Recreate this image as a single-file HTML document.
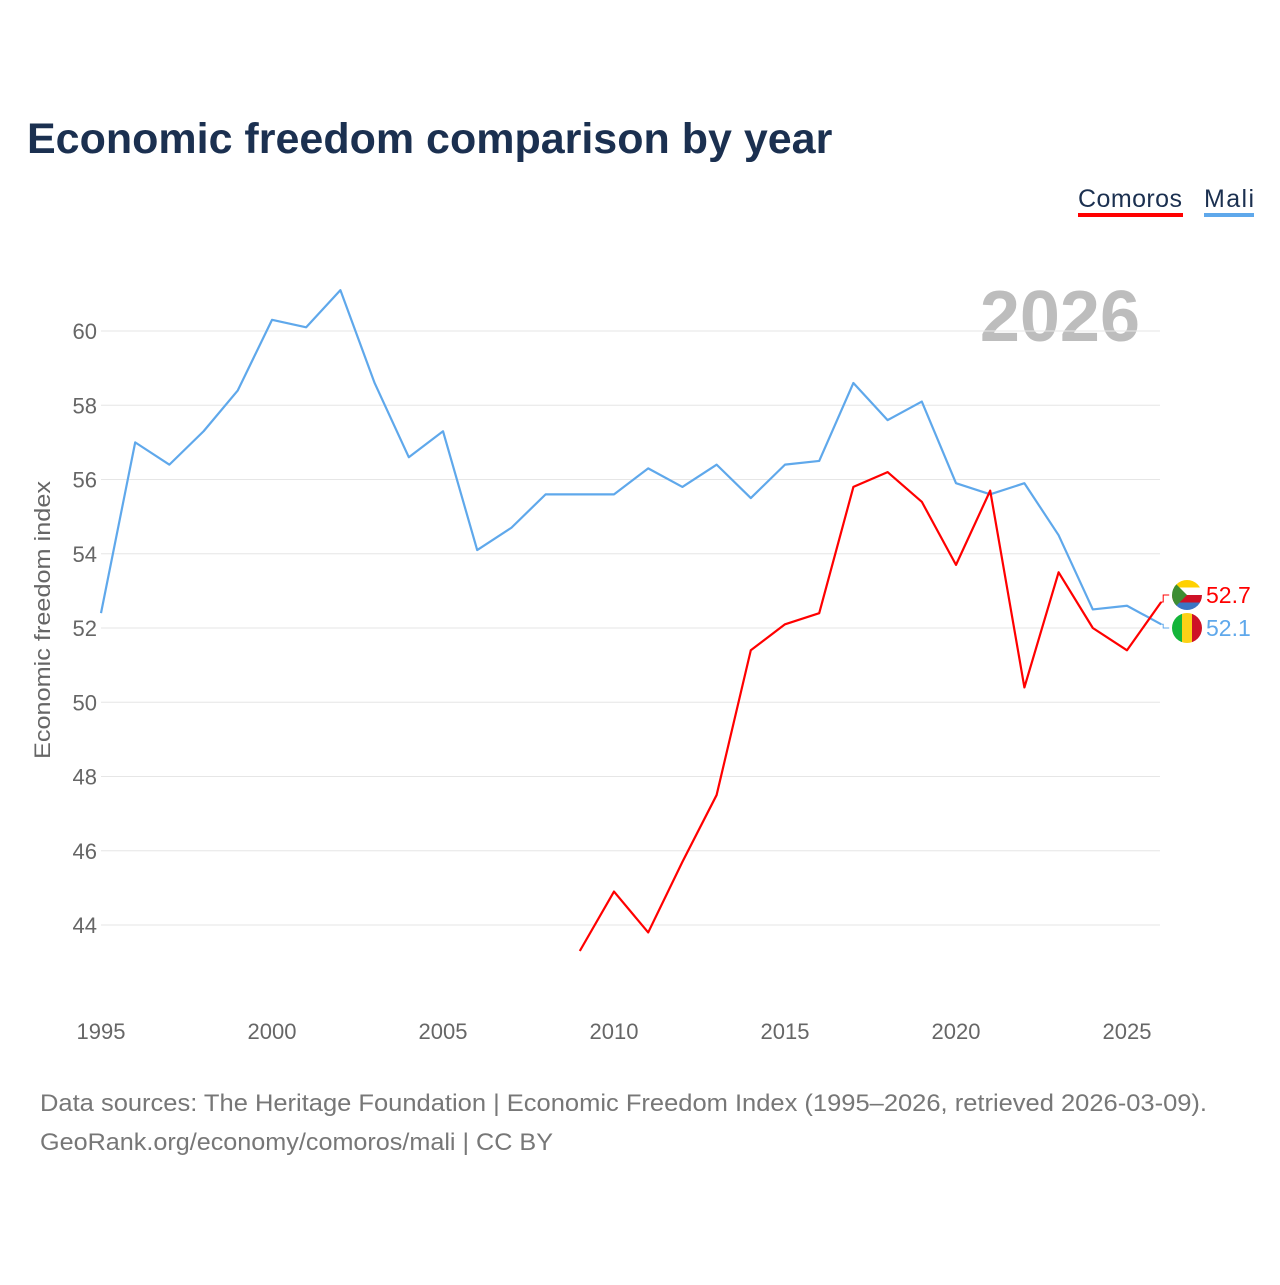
<!DOCTYPE html>
<html><head><meta charset="utf-8"><style>
body{margin:0;background:#fff;font-family:"Liberation Sans",sans-serif;}
svg text{font-family:"Liberation Sans",sans-serif;}
</style></head><body>
<svg width="1280" height="1280" xmlns="http://www.w3.org/2000/svg">
<text x="27" y="153" font-size="43" font-weight="bold" fill="#1b3050">Economic freedom comparison by year</text>
<g>
<text x="1078" y="207" font-size="25" fill="#1b3050" textLength="104">Comoros</text>
<rect x="1078" y="213" width="105" height="4" fill="#f00"/>
<text x="1204" y="207" font-size="25" fill="#1b3050" textLength="50">Mali</text>
<rect x="1204" y="213" width="50" height="4" fill="#5fa8eb"/>
</g>
<text x="1140" y="341" font-size="72" font-weight="bold" fill="#bdbdbd" text-anchor="end">2026</text>
<text transform="translate(50,620) rotate(-90)" font-size="22" fill="#666" text-anchor="middle" textLength="278" lengthAdjust="spacingAndGlyphs">Economic freedom index</text>
<g id="grid"></g><g id="lines"></g><g id="ends"></g>
<text x="40" y="1111" font-size="24" fill="#777" textLength="1167" lengthAdjust="spacingAndGlyphs">Data sources: The Heritage Foundation | Economic Freedom Index (1995–2026, retrieved 2026-03-09).</text>
<text x="40" y="1150" font-size="24" fill="#777" textLength="513" lengthAdjust="spacingAndGlyphs">GeoRank.org/economy/comoros/mali | CC BY</text>
</svg>
<script>
const yTicks=[44,46,48,50,52,54,56,58,60];
const xTicks=[1995,2000,2005,2010,2015,2020,2025];
const maliYears=[1995,1996,1997,1998,1999,2000,2001,2002,2003,2004,2005,2006,2007,2008,2009,2010,2011,2012,2013,2014,2015,2016,2017,2018,2019,2020,2021,2022,2023,2024,2025,2026];
const maliValues=[52.4,57.0,56.4,57.3,58.4,60.3,60.1,61.1,58.6,56.6,57.3,54.1,54.7,55.6,55.6,55.6,56.3,55.8,56.4,55.5,56.4,56.5,58.6,57.6,58.1,55.9,55.6,55.9,54.5,52.5,52.6,52.1];
const comYears=[2009,2010,2011,2012,2013,2014,2015,2016,2017,2018,2019,2020,2021,2022,2023,2024,2025,2026];
const comValues=[43.3,44.9,43.8,45.7,47.5,51.4,52.1,52.4,55.8,56.2,55.4,53.7,55.7,50.4,53.5,52.0,51.4,52.7];
const NS="http://www.w3.org/2000/svg";
const X=y=>101+(y-1995)*34.2;
const Y=v=>331+(60-v)*37.125;
function mk(t,a,p){const e=document.createElementNS(NS,t);for(const k in a)e.setAttribute(k,a[k]);p.appendChild(e);return e;}
const g=document.getElementById('grid');
yTicks.forEach(v=>{
 const l=mk('line',{x1:101,x2:1160,y1:Y(v),y2:Y(v),stroke:'#e6e6e6','stroke-width':1},g);
 
 
 const t=mk('text',{x:97,y:Y(v)+8,'font-size':22,fill:'#666','text-anchor':'end'},g);t.textContent=v;
 
 
});
xTicks.forEach(y=>{
 const t=mk('text',{x:X(y),y:1039,'font-size':22,fill:'#666','text-anchor':'middle'},g);t.textContent=y;
 
 
});
const L=document.getElementById('lines');
function line(ys,vs,c,n){
 const p=mk('polyline',{points:ys.map((y,i)=>X(y)+','+Y(vs[i])).join(' '),fill:'none',stroke:c,'stroke-width':2.2,'stroke-linejoin':'round'},L);
 
 
}
line(maliYears,maliValues,'#5fa8eb','mali-line');
line(comYears,comValues,'#f00','comoros-line');
const E=document.getElementById('ends');
function end(v,ly,c,n,flag){
 const x=X(2026);
 mk('polyline',{points:`${x},${Y(v)} ${x+2},${Y(v)} ${x+2},${ly} ${x+8},${ly}`,fill:'none',stroke:c,'stroke-width':1},E);
 const f=mk('g',{},E);
 
 
 flag(f,1187,ly);
 const t=mk('text',{x:1206,y:ly+8,'font-size':23,fill:c},E);t.textContent=v.toFixed(1);
 
 
}
end(comValues[comValues.length-1],595,'#f00','comoros',(f,cx,cy)=>{
 const d=mk('clipPath',{id:'cc'},f);mk('circle',{cx,cy,r:15},d);
 const gg=mk('g',{'clip-path':'url(#cc)'},f);
 ['#ffd100','#fff','#ce1126','#3a75c4'].forEach((c,i)=>mk('rect',{x:cx-15,y:cy-15+i*7.5,width:30,height:7.5,fill:c},gg));
 mk('polygon',{points:`${cx-15},${cy-15} ${cx},${cy} ${cx-15},${cy+15}`,fill:'#3d8e33'},gg);
});
end(maliValues[maliValues.length-1],628,'#5fa8eb','mali',(f,cx,cy)=>{
 const d=mk('clipPath',{id:'mc'},f);mk('circle',{cx,cy,r:15},d);
 const gg=mk('g',{'clip-path':'url(#mc)'},f);
 ['#14b53a','#fcd116','#ce1126'].forEach((c,i)=>mk('rect',{x:cx-15+i*10,y:cy-15,width:10,height:30,fill:c},gg));
});
</script>
</body></html>
